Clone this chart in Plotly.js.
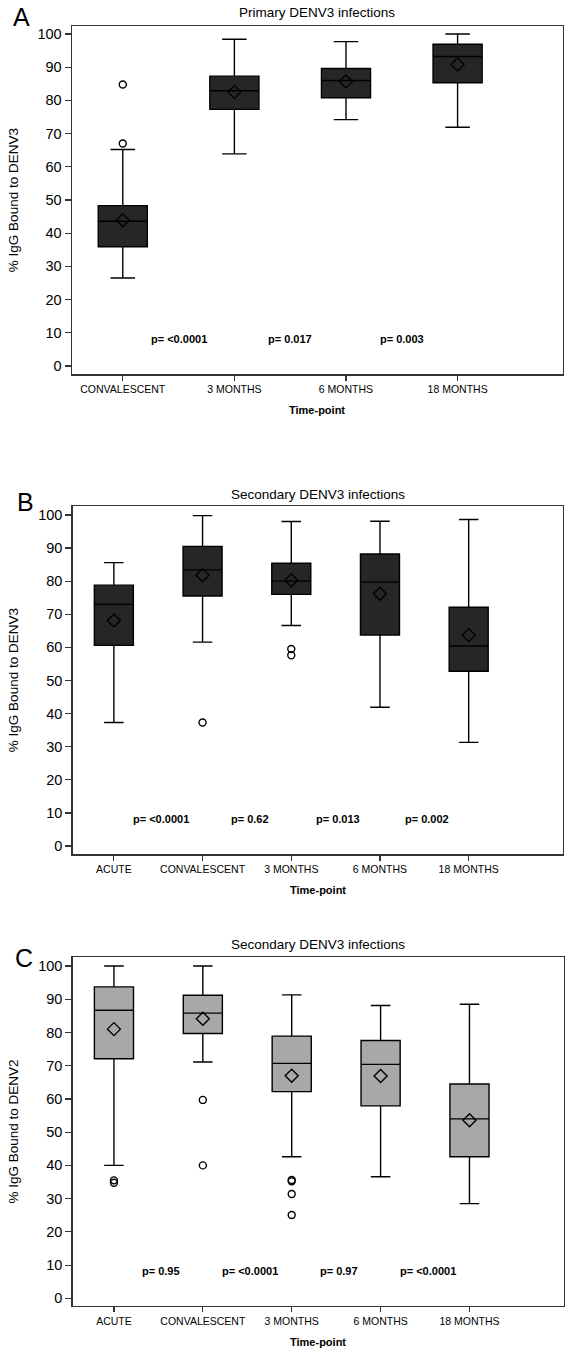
<!DOCTYPE html>
<html>
<head>
<meta charset="utf-8">
<script src="https://cdn.plot.ly/plotly-3.0.1.min.js"></script>
<style>
  html, body { margin: 0; padding: 0; background: #fff; }
  #chart { width: 571px; height: 1357px; }
</style>
</head>
<body>
<div id="chart"></div>
<script>
// ---------- Data ----------
// Panel A: Primary DENV3 infections, % IgG bound to DENV3
const catsA   = ['CONVALESCENT', '3 MONTHS', '6 MONTHS', '18 MONTHS'];
const lowA    = [26.5, 63.9, 74.2, 71.9];
const q1A     = [35.9, 77.3, 80.8, 85.3];
const medA    = [43.6, 82.9, 86.0, 93.2];
const q3A     = [48.3, 87.3, 89.6, 96.9];
const highA   = [65.2, 98.4, 97.7, 100.0];
const meanA   = [43.9, 82.5, 85.7, 90.8];
const outCatA = ['CONVALESCENT', 'CONVALESCENT'];
const outValA = [67.0, 84.8];
const pA      = ['p= <0.0001', 'p= 0.017', 'p= 0.003'];

// Panel B: Secondary DENV3 infections, % IgG bound to DENV3
const catsB   = ['ACUTE', 'CONVALESCENT', '3 MONTHS', '6 MONTHS', '18 MONTHS'];
const lowB    = [37.3, 61.6, 66.6, 41.9, 31.3];
const q1B     = [60.6, 75.5, 76.0, 63.7, 52.8];
const medB    = [73.0, 83.4, 80.0, 79.7, 60.4];
const q3B     = [78.8, 90.5, 85.4, 88.2, 72.1];
const highB   = [85.6, 99.8, 98.0, 98.1, 98.6];
const meanB   = [68.1, 81.8, 80.3, 76.2, 63.7];
const outCatB = ['CONVALESCENT', '3 MONTHS', '3 MONTHS'];
const outValB = [37.3, 59.5, 57.6];
const pB      = ['p= <0.0001', 'p= 0.62', 'p= 0.013', 'p= 0.002'];

// Panel C: Secondary DENV3 infections, % IgG bound to DENV2
const catsC   = ['ACUTE', 'CONVALESCENT', '3 MONTHS', '6 MONTHS', '18 MONTHS'];
const lowC    = [40.0, 71.1, 42.6, 36.6, 28.5];
const q1C     = [72.1, 79.7, 62.2, 57.9, 42.6];
const medC    = [86.7, 85.8, 70.7, 70.4, 54.0];
const q3C     = [93.7, 91.2, 78.9, 77.6, 64.5];
const highC   = [100.0, 100.0, 91.3, 88.1, 88.5];
const meanC   = [81.0, 84.1, 67.0, 66.9, 53.6];
const outCatC = ['ACUTE', 'ACUTE', 'CONVALESCENT', 'CONVALESCENT', '3 MONTHS', '3 MONTHS', '3 MONTHS', '3 MONTHS'];
const outValC = [35.5, 34.8, 59.7, 40.0, 35.6, 35.2, 31.4, 25.1];
const pC      = ['p= 0.95', 'p= <0.0001', 'p= 0.97', 'p= <0.0001'];

const panelLetters = ['A', 'B', 'C'];
const panelTitles  = ['Primary DENV3 infections', 'Secondary DENV3 infections', 'Secondary DENV3 infections'];
const yTitles      = ['% IgG Bound to DENV3', '% IgG Bound to DENV3', '% IgG Bound to DENV2'];
const xTitle       = 'Time-point';

// ---------- Layout helpers ----------
const W = 571, H = 1357;
const px = x => x / W;
const py = y => 1 - y / H;
const FONT = 'Liberation Sans, Arial, Helvetica, sans-serif';

const panels = [
  { cats: catsA, low: lowA, q1: q1A, med: medA, q3: q3A, high: highA, mean: meanA,
    outCat: outCatA, outVal: outValA, p: pA, fill: '#262626',
    box: [72, 26, 562.5, 374.3], xr: [-0.455, 3.94], yr: [-2.5, 102.4], pOff: 0.0,
    letter: [21.5, 17], title: 13, ticklab: 390, xt: 410 },
  { cats: catsB, low: lowB, q1: q1B, med: medB, q3: q3B, high: highB, mean: meanB,
    outCat: outCatB, outVal: outValB, p: pB, fill: '#262626',
    box: [72.7, 506, 562.7, 854.3], xr: [-0.464, 5.06], yr: [-2.5, 102.7], pOff: 0.03,
    letter: [25, 502], title: 494, ticklab: 870, xt: 890 },
  { cats: catsC, low: lowC, q1: q1C, med: medC, q3: q3C, high: highC, mean: meanC,
    outCat: outCatC, outVal: outValC, p: pC, fill: '#a8a8a8',
    box: [72.7, 957, 563.7, 1306], xr: [-0.464, 5.06], yr: [-2.3, 102.7], pOff: 0.03,
    letter: [24, 958], title: 944, ticklab: 1322, xt: 1342 }
];

const traces = [];
const layout = {
  width: W, height: H,
  margin: { l: 0, r: 0, t: 0, b: 0 },
  paper_bgcolor: '#ffffff', plot_bgcolor: '#ffffff',
  showlegend: false,
  font: { family: FONT, color: '#000' },
  annotations: []
};

panels.forEach((P, k) => {
  const sfx = k === 0 ? '' : String(k + 1);
  const xa = 'x' + sfx, ya = 'y' + sfx;
  const idx = P.cats.map((c, i) => i);
  const catIndex = c => P.cats.indexOf(c);

  traces.push({
    type: 'box', xaxis: xa, yaxis: ya,
    x: idx, q1: P.q1, median: P.med, q3: P.q3,
    lowerfence: P.low, upperfence: P.high,
    width: 0.44, whiskerwidth: 0.5,
    fillcolor: P.fill,
    line: { color: '#000', width: 1.4 },
    boxpoints: false, hoverinfo: 'skip'
  });
  traces.push({
    type: 'scatter', mode: 'markers', xaxis: xa, yaxis: ya,
    x: idx, y: P.mean,
    marker: { symbol: 'diamond-open', size: 10, color: '#000', line: { width: 1.4, color: '#000' } },
    hoverinfo: 'skip'
  });
  traces.push({
    type: 'scatter', mode: 'markers', xaxis: xa, yaxis: ya,
    x: P.outCat.map(catIndex), y: P.outVal,
    marker: { symbol: 'circle-open', size: 7, color: '#000', line: { width: 1.4, color: '#000' } },
    hoverinfo: 'skip'
  });

  const [x0, y0, x1, y1] = P.box;
  layout['xaxis' + sfx] = {
    domain: [px(x0), px(x1)], anchor: ya,
    range: P.xr, tickmode: 'array', tickvals: idx, ticktext: P.cats,
    ticks: 'outside', ticklen: 5, tickwidth: 1.2, tickcolor: '#333',
    showline: true, linecolor: '#333', linewidth: 1.4, mirror: true,
    showgrid: false, zeroline: false,
    tickfont: { family: FONT, size: 10.5, color: '#000' }, fixedrange: true
  };
  layout['yaxis' + sfx] = {
    domain: [py(y1), py(y0)], anchor: xa,
    range: P.yr, tickmode: 'array', tickvals: [0,10,20,30,40,50,60,70,80,90,100],
    ticks: 'outside', ticklen: 6, tickwidth: 1.2, tickcolor: '#333',
    showline: true, linecolor: '#333', linewidth: 1.4, mirror: true,
    showgrid: false, zeroline: false,
    tickfont: { family: FONT, size: 14.5, color: '#000' }, fixedrange: true
  };

  // p-values between time points
  P.p.forEach((t, i) => {
    layout.annotations.push({
      xref: xa, yref: ya, x: i + 0.5 + P.pOff, y: 8.2, text: '<b>' + t + '</b>',
      showarrow: false, xanchor: 'center', yanchor: 'middle',
      font: { family: FONT, size: 11, color: '#000' }
    });
  });
  // panel letter
  layout.annotations.push({
    xref: 'paper', yref: 'paper', x: px(P.letter[0]), y: py(P.letter[1]),
    text: panelLetters[k], showarrow: false, xanchor: 'center', yanchor: 'middle',
    font: { family: FONT, size: 25, color: '#000' }
  });
  // panel title
  layout.annotations.push({
    xref: 'paper', yref: 'paper', x: px((x0 + x1) / 2), y: py(P.title),
    text: panelTitles[k], showarrow: false, xanchor: 'center', yanchor: 'middle',
    font: { family: FONT, size: 13.5, color: '#000' }
  });
  // y title
  layout.annotations.push({
    xref: 'paper', yref: 'paper', x: px(13), y: py((y0 + y1) / 2),
    text: yTitles[k], showarrow: false, textangle: -90, xanchor: 'center', yanchor: 'middle',
    font: { family: FONT, size: 13.5, color: '#000' }
  });
  // x title
  layout.annotations.push({
    xref: 'paper', yref: 'paper', x: px((x0 + x1) / 2), y: py(P.xt),
    text: '<b>' + xTitle + '</b>', showarrow: false, xanchor: 'center', yanchor: 'middle',
    font: { family: FONT, size: 11, color: '#000' }
  });
});

Plotly.newPlot('chart', traces, layout, { displayModeBar: false, staticPlot: true });
</script>
</body>
</html>
